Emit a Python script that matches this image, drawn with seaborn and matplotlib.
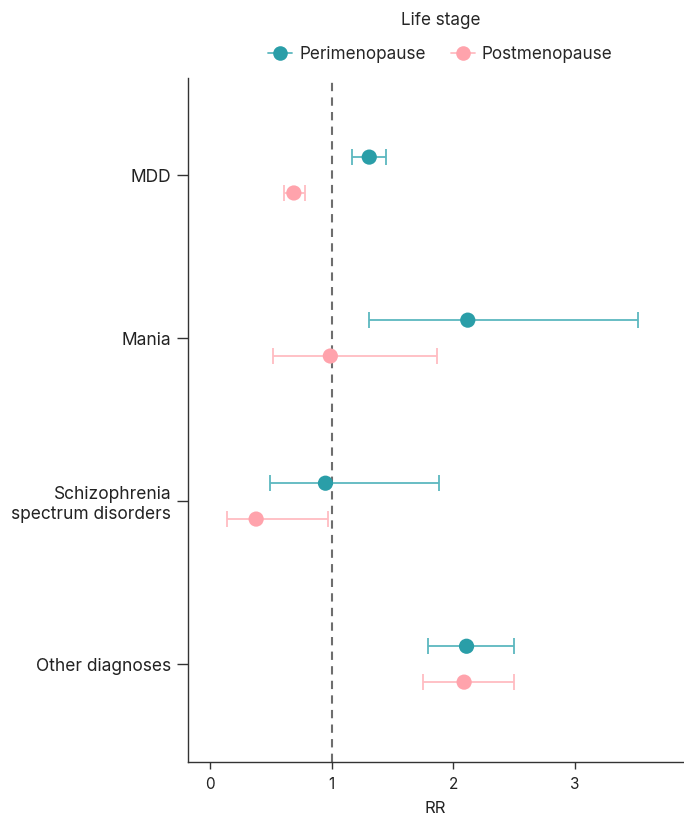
import seaborn as sns
import matplotlib.pyplot as plt
import pandas as pd
from matplotlib.lines import Line2D

# values
diagnoses = ["MDD", "Mania", "Schizophrenia\nspectrum disorders", "Other diagnoses"]
stages = ["Perimenopause", "Postmenopause"]
peri_rr = [1.31, 2.12, 0.95, 2.11]
peri_lo = [1.17, 1.31, 0.49, 1.79]
peri_hi = [1.45, 3.52, 1.88, 2.50]
post_rr = [0.69, 0.99, 0.38, 2.09]
post_lo = [0.61, 0.52, 0.14, 1.75]
post_hi = [0.78, 1.87, 0.97, 2.50]

colors = {"Perimenopause": "#2a9ea8", "Postmenopause": "#ffa3ac"}
bar_colors = {"Perimenopause": "#5cb8bf", "Postmenopause": "#ffbcc2"}

rows = []
for i, d in enumerate(diagnoses):
    rows.append(dict(diag=d, stage="Perimenopause", pos=i - 0.11, rr=peri_rr[i], lo=peri_lo[i], hi=peri_hi[i]))
    rows.append(dict(diag=d, stage="Postmenopause", pos=i + 0.11, rr=post_rr[i], lo=post_lo[i], hi=post_hi[i]))
df = pd.DataFrame(rows)

sns.set_style("ticks")
plt.rcParams["font.family"] = ["Inter", "DejaVu Sans"]

fig = plt.figure(figsize=(6.84, 8.17), dpi=100)
ax = fig.add_axes([0.2749, 0.0673, 0.7237, 0.8372])

ax.axvline(1, color="#6e6e6e", lw=1.5, ls=(0, (4, 3)), zorder=0)

for st in stages:
    sub = df[df.stage == st]
    ax.errorbar(sub.rr, sub.pos, xerr=[sub.rr - sub.lo, sub.hi - sub.rr], fmt="none",
                ecolor=bar_colors[st], elinewidth=1.3, capsize=6, capthick=1.3, zorder=1)

sns.scatterplot(data=df, x="rr", y="pos", hue="stage", palette=colors, s=120,
                edgecolor="none", legend=False, ax=ax, zorder=3)

ax.set_xlim(-0.18, 3.89)
ax.set_ylim(3.60, -0.595)
ax.set_yticks(range(len(diagnoses)))
ax.set_yticklabels(diagnoses, fontsize=12.5, color="#222222")
ax.set_xticks([0, 1, 2, 3])
ax.set_xticklabels(["0", "1", "2", "3"], fontsize=11, color="#222222")
ax.set_xlabel("RR", fontsize=12, color="#222222", labelpad=6)
ax.set_ylabel("")
ax.tick_params(axis="y", length=8, width=1, color="#333333", pad=4)
ax.tick_params(axis="x", length=5, width=1, color="#333333", pad=6)
sns.despine(ax=ax)
for s in ["left", "bottom"]:
    ax.spines[s].set_color("#333333")
    ax.spines[s].set_linewidth(1)

handles = [Line2D([], [], color=bar_colors[st], marker="o", markersize=10.5,
                  markerfacecolor=colors[st], markeredgecolor="none", lw=1.3)
           for st in stages]
leg = ax.legend(handles, stages, title="Life stage", loc="lower center",
                bbox_to_anchor=(0.51, 1.0), ncol=2, frameon=False, fontsize=12.3,
                title_fontsize=12.3, handlelength=1.4, columnspacing=1.5, handletextpad=0.4)
leg._legend_box.sep = 12

fig.savefig("out.png", dpi=100)
